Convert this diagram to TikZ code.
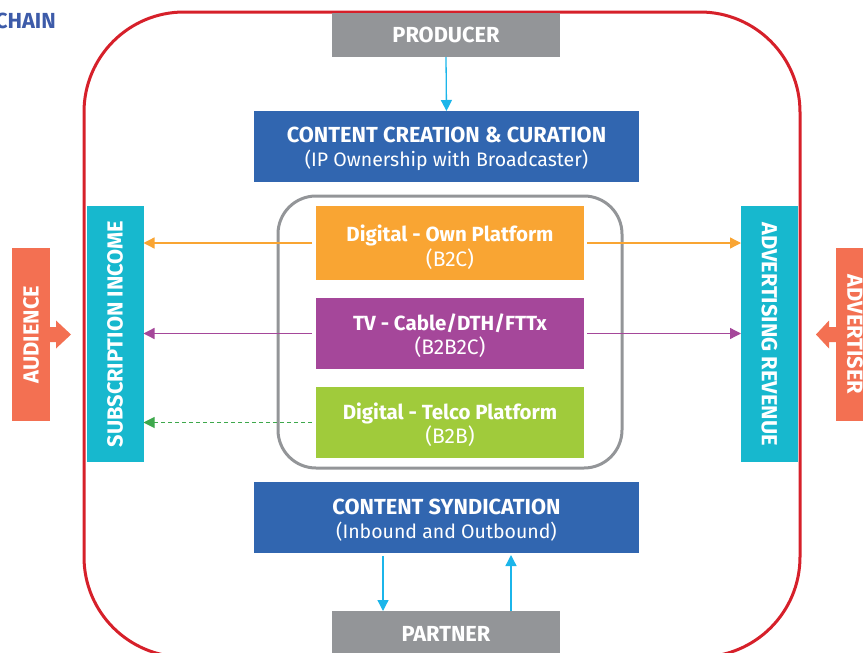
\documentclass[tikz,border=0pt]{standalone}
\usepackage{fontspec}
\setmainfont{Fira Sans}
\usetikzlibrary{arrows.meta,calc}
\definecolor{redline}{RGB}{214,32,42}
\definecolor{boxgray}{RGB}{147,149,152}
\definecolor{boxblue}{RGB}{49,102,176}
\definecolor{boxorange}{RGB}{249,165,51}
\definecolor{boxpurple}{RGB}{165,71,154}
\definecolor{boxgreen}{RGB}{160,203,59}
\definecolor{dashgreen}{RGB}{62,168,76}
\definecolor{boxteal}{RGB}{23,184,206}
\definecolor{boxcoral}{RGB}{243,112,82}
\definecolor{arrcyan}{RGB}{27,181,234}
\definecolor{titleblue}{RGB}{61,91,169}
\newcommand{\bcaps}{\fontsize{21.8}{24}\selectfont\bfseries}
\newcommand{\bmix}{\fontsize{20.5}{24}\selectfont\bfseries}
\newcommand{\rmix}{\fontsize{19.5}{24}\selectfont}
\newcommand{\rcaps}{\fontsize{21}{24}\selectfont}
\tikzset{
  plain/.style={inner sep=0pt, outer sep=0pt, text=white, align=center, font=\rmix},
  graybox/.style={plain, fill=boxgray, minimum width=228pt, minimum height=44pt, font=\bcaps},
  bluebox/.style={plain, fill=boxblue, minimum width=385pt, minimum height=71pt},
  platbox/.style={plain, minimum width=268pt, minimum height=71pt},
  sidebox/.style={plain, fill=boxteal, minimum width=256pt, minimum height=57pt, font=\bcaps},
  coralbox/.style={plain, fill=boxcoral, minimum width=173pt, minimum height=38pt, font=\bcaps},
  tip/.style={-{Triangle[length=11pt,width=11pt]}},
  cyanarrow/.style={tip, draw=arrcyan, line width=1.3pt},
  oarrow/.style={tip, draw=boxorange, line width=1.3pt},
  parrow/.style={tip, draw=boxpurple, line width=1.3pt},
  garrow/.style={tip, draw=dashgreen, line width=1pt, dash pattern=on 4pt off 3pt},
}
\begin{document}
\begin{tikzpicture}[x=1pt,y=-1pt]
\useasboundingbox (0,0) rectangle (863,653);
% outer red frame
\draw[redline, line width=3pt, rounded corners=100pt] (84,12) rectangle (800,657);
% title fragment
\node[anchor=east, inner sep=0pt, text=titleblue, font=\bcaps] (title) at (56,21) {CHAIN};
% top / bottom
\node[graybox] (producer) at (446,35) {PRODUCER};
\node[bluebox] (create) at (446.5,146.5) {};
\node[plain] (createt) at ([yshift=-2pt]create.center) {{\bcaps CONTENT CREATION \& CURATION}\\(IP Ownership with Broadcaster)};
\node[bluebox] (synd) at (446.5,517.5) {};
\node[plain] (syndt) at ([yshift=-2.5pt]synd.center) {{\bcaps CONTENT SYNDICATION}\\(Inbound and Outbound)};
\node[graybox, minimum height=46pt] (partner) at (446,634) {PARTNER};
% platforms
\draw[boxgray, line width=3pt, rounded corners=38pt] (278,196) rectangle (622,468);
\node[platbox, fill=boxorange, minimum height=74pt] (own) at (450,243) {};
\node[platbox, fill=boxpurple] (tv) at (450,333.5) {};
\node[platbox, fill=boxgreen] (telco) at (450,422.5) {};
\node[plain, font=\fontsize{19.5}{25.5}\selectfont] (ownt) at ([yshift=-4pt]own.center) {{\bmix Digital - Own Platform}\\{\rcaps (B2C)}};
\node[plain] (tvt) at ([yshift=-2pt]tv.center) {{\bmix TV - Cable/DTH/FTTx}\\{\rcaps (B2B2C)}};
\node[plain] (telcot) at ([yshift=-2pt]telco.center) {{\bmix Digital - Telco Platform}\\{\rcaps (B2B)}};
% side columns
\node[sidebox, rotate=90] (subinc) at (115,334) {SUBSCRIPTION INCOME};
\node[sidebox, rotate=-90] (adrev) at (769.5,334) {ADVERTISING REVENUE};
\node[coralbox, rotate=90] (audience) at (31,334.5) {AUDIENCE};
\node[coralbox, rotate=-90] (advertiser) at (855,334.5) {ADVERTISER};
% coral arrow tabs
\fill[boxcoral] (audience.south) ++(0,-7.5) -- ++(6,0) -- ++(0,-6.5) -- ++(15,14) -- ++(-15,14) -- ++(0,-6.5) -- ++(-6,0) -- cycle;
\fill[boxcoral] (advertiser.south) ++(0,-7.5) -- ++(-7,0) -- ++(0,-6.5) -- ++(-13,14) -- ++(13,14) -- ++(0,-6.5) -- ++(7,0) -- cycle;
% connectors
\draw[cyanarrow] (producer.south) -- (create.north);
\draw[cyanarrow] ($(synd.south)+(-63.5,3)$) -- ($(partner.north)+(-63,0)$);
\draw[cyanarrow] ($(partner.north)+(65,0)$) -- ($(synd.south)+(64.5,2)$);
\draw[oarrow] ($(own.west)+(-4,0)$) -- (own.west -| subinc.south);
\draw[parrow] ($(tv.west)+(-4,0)$) -- (tv.west -| subinc.south);
\draw[garrow] ($(telco.west)+(-4,0)$) -- (telco.west -| subinc.south);
\draw[oarrow] ($(own.east)+(3,0)$) -- (own.east -| adrev.south);
\draw[parrow] ($(tv.east)+(3,0)$) -- (tv.east -| adrev.south);
\end{tikzpicture}
\end{document}
